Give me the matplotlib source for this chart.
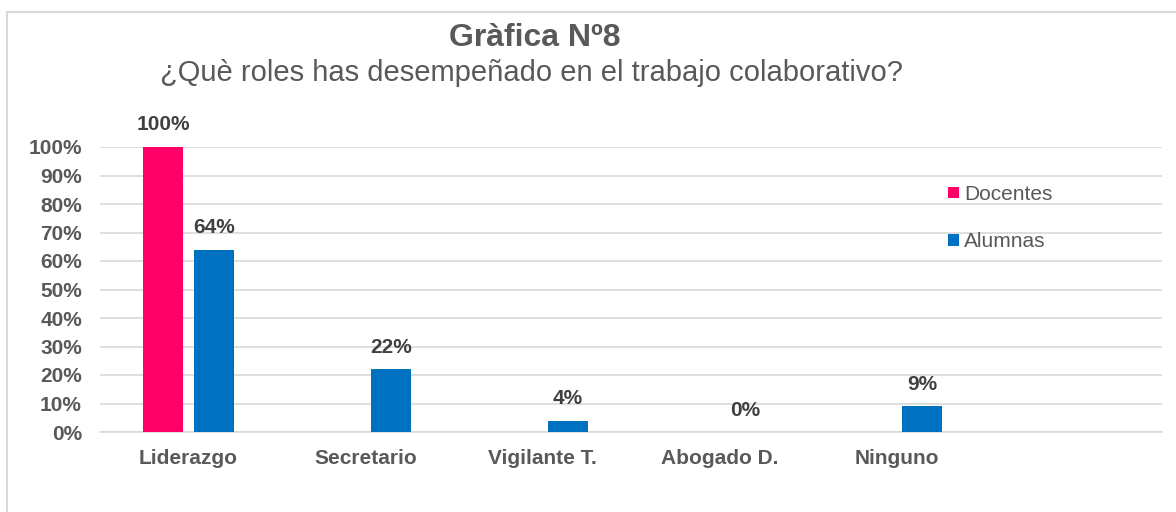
import numpy as np
import matplotlib.pyplot as plt
from matplotlib.patches import Rectangle
from matplotlib.ticker import PercentFormatter

plt.rcParams['font.family'] = ['Liberation Sans', 'DejaVu Sans']

# ---------- data ----------
categories = ["Liderazgo", "Secretario", "Vigilante T.", "Abogado D.", "Ninguno", ""]
docentes = [100, 0, 0, 0, 0, 0]
alumnas = [64, 22, 4, 0, 9, np.nan]
series_names = ["Docentes", "Alumnas"]
yticks = list(range(0, 101, 10))

col_doc = "#FF0066"
col_alu = "#0070C0"
txt_grey = "#595959"
lbl_dark = "#404040"

fig = plt.figure(figsize=(11.76, 5.12), dpi=100)
ax = fig.add_axes([100 / 1176, 80 / 512, 1062 / 1176, 285 / 512])

# outer chart frame (partly off-canvas)
fig.patches.append(Rectangle((7 / 1176, -0.1), 1.2, (512 - 12) / 512 + 0.1,
                             transform=fig.transFigure, fill=False,
                             edgecolor="#D9D9D9", linewidth=1.5, zorder=0))

x = np.arange(len(categories))
w = 0.226
off = 0.144
ax.bar(x - off, docentes, w, color=col_doc, label=series_names[0], zorder=3)
ax.bar(x + off, alumnas, w, color=col_alu, label=series_names[1], zorder=3)

for xi, v in zip(x, docentes):
    if v > 0:
        ax.annotate(f"{v:.0f}%", (xi - off, v), xytext=(0, 9), textcoords="offset points",
                    ha="center", va="bottom", fontsize=15, fontweight="bold", color=lbl_dark)
for xi, v in zip(x, alumnas):
    if not np.isnan(v):
        ax.annotate(f"{v:.0f}%", (xi + off, v), xytext=(0, 9), textcoords="offset points",
                    ha="center", va="bottom", fontsize=15, fontweight="bold", color=lbl_dark)

ax.set_xlim(-0.5, len(categories) - 0.5)
ax.set_ylim(0, 100)
ax.set_yticks(yticks)
ax.yaxis.set_major_formatter(PercentFormatter(decimals=0))
ax.set_xticks(x)
ax.set_xticklabels(categories)
ax.grid(axis="y", color="#D9D9D9", linewidth=1.2, zorder=0)
ax.set_axisbelow(True)
for s in ["top", "right", "left"]:
    ax.spines[s].set_visible(False)
ax.spines["bottom"].set_color("#D9D9D9")
ax.spines["bottom"].set_linewidth(1.2)
ax.tick_params(axis="both", length=0, colors=txt_grey, labelsize=15)
ax.tick_params(axis="x", pad=12)
ax.tick_params(axis="y", pad=13)
for lab in ax.get_xticklabels() + ax.get_yticklabels():
    lab.set_fontweight("bold")

ax.legend(loc="upper left", bbox_to_anchor=(0.781, 0.933), frameon=False,
          fontsize=15, handlelength=0.5, handleheight=0.5, handletextpad=0.25,
          labelspacing=1.35, labelcolor=txt_grey)

fig.text(535 / 1176, 1 - 38 / 512, "Gràfica Nº8", ha="center", va="center",
         fontsize=23, fontweight="bold", color=txt_grey)
fig.text(532 / 1176, 1 - 73 / 512, "¿Què roles has desempeñado en el trabajo colaborativo?",
         ha="center", va="center", fontsize=21, color=txt_grey)

fig.savefig("out.png", dpi=100)
